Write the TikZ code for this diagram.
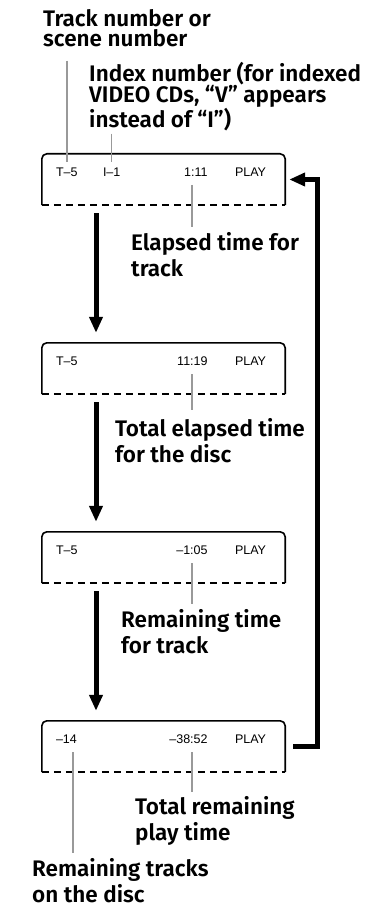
\documentclass[tikz,border=0pt]{standalone}
\usepackage{fontspec}
\setmainfont{Liberation Sans}
\newfontfamily\lblfont{Fira Sans SemiBold}
\usetikzlibrary{arrows.meta,positioning}

\begin{document}
\begin{tikzpicture}[x=1pt, y=-1pt, node distance={189pt},
    dispbox/.style = {minimum width=243pt, minimum height=51pt, inner sep=0pt},
    disp/.style = {font=\fontsize{12.5}{14}\selectfont, inner sep=0pt},
    lbl/.style = {font=\lblfont\fontsize{22.5}{26}\selectfont, align=left, inner sep=0pt, anchor=base west},
    lbltop/.style = {lbl, font=\lblfont\fontsize{22.5}{20.5}\selectfont},
    frame/.style = {line width=1.6pt, rounded corners=5pt},
    seam/.style = {line width=1.5pt, dash pattern=on 7.5pt off 4.5pt},
    leader/.style = {draw=gray!80, line width=1.5pt},
    flow/.style = {line width=5pt, -{Triangle[length=16pt,width=13pt]}}]
    \useasboundingbox (0,0) rectangle (370,909);

    % display windows
    \node[dispbox] (d1) at (163.5,179.5) {};
    \node[dispbox] (d2) [below of=d1] {};
    \node[dispbox] (d3) [below of=d2] {};
    \node[dispbox] (d4) [below of=d3] {};
    \foreach \d in {d1,d2,d3,d4} {
        \draw[frame] (\d.south west) -- (\d.north west) -- (\d.north east) -- (\d.south east);
        \draw[seam] (\d.south west) -- (\d.south east);
    }

    % display readouts
    \foreach \i/\a/\t in {1/T–5/1:11, 2/T–5/11:19, 3/T–5/–1:05, 4/–14/–38:52} {
        \node[disp, anchor=base west] (t\i) at ([xshift=14pt,yshift=-23pt]d\i.north west) {\a};
        \node[disp, anchor=base east] (tm\i) at ([xshift=166pt,yshift=-23pt]d\i.north west) {\t};
        \node[disp, anchor=base west] (p\i) at ([xshift=193pt,yshift=-23pt]d\i.north west) {PLAY};
    }
    \node[disp, anchor=base west] (i1) at ([xshift=61pt,yshift=-23pt]d1.north west) {I–1};

    % labels (placed at the baseline of their last line)
    \node[lbltop] (trk) at (43,47) {Track number or\\scene number};
    \node[lbltop] (idx) at (89,128) {Index number (for indexed\\VIDEO CDs, “V” appears\\instead of “I”)};
    \node[lbl] (el) at (131,276) {Elapsed time for\\track};
    \node[lbl] (tot) at (115,462) {Total elapsed time\\for the disc};
    \node[lbl] (rem) at (121,653) {Remaining time\\for track};
    \node[lbl] (trem) at (135,840) {Total remaining\\play time};
    \node[lbl] (rtr) at (32,902) {Remaining tracks\\on the disc};

    % leaders
    \coordinate (col) at (192,0);
    \coordinate (colL) at (73,0);
    \draw[leader, shorten <=13pt, shorten >=6pt] (t1.north |- trk.south) -- (t1.north);
    \draw[leader, shorten <=2pt, shorten >=6pt] (i1.north |- idx.south) -- (i1.north);
    \draw[leader, shorten <=8pt, shorten >=5pt] (tm1.south -| col) -- (el.north -| col);
    \draw[leader, shorten <=8pt, shorten >=8pt] (tm2.south -| col) -- (tot.north -| col);
    \draw[leader, shorten <=8pt, shorten >=5pt] (tm3.south -| col) -- (rem.north -| col);
    \draw[leader, shorten <=8pt, shorten >=4pt] (tm4.south -| col) -- (trem.north -| col);
    \draw[leader, shorten <=8pt, shorten >=5pt] (t4.south -| colL) -- (rtr.north -| colL);

    % sequence arrows
    \coordinate (ax) at (96,0);
    \foreach \a/\b in {d1/d2, d2/d3, d3/d4}
        \draw[flow, shorten <=8pt, shorten >=10pt] (\a.south -| ax) -- (\b.north -| ax);
    \draw[flow] ([xshift=8pt]d4.east) -| ([xshift=32pt]d1.east) -- ([xshift=4pt]d1.east);
\end{tikzpicture}
\end{document}
